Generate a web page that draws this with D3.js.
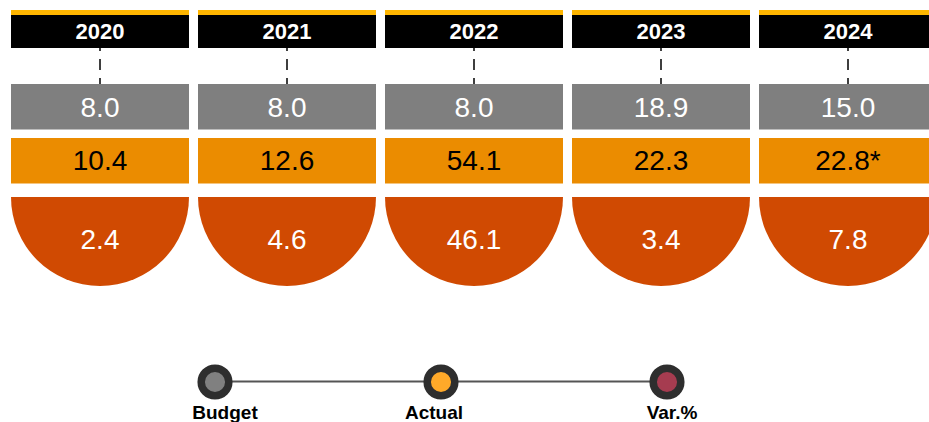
<!DOCTYPE html>
<html>
<head>
<meta charset="utf-8">
<script src="https://cdn.jsdelivr.net/npm/d3@7"></script>
<style>
  body { margin: 0; background: #fff; }
  svg { display: block; font-family: "Liberation Sans", Arial, Helvetica, sans-serif; }
</style>
</head>
<body>
<div id="here"></div>
<script>
  var w = 929, h = 422;

  var years = ['2020', '2021', '2022', '2023', '2024'];
  var budget = [8.0, 8.0, 8.0, 18.9, 15.0];
  var actual = [10.4, 12.6, 54.1, 22.3, 22.8];
  var actualNote = ['', '', '', '', '*'];
  var variance = [2.4, 4.6, 46.1, 3.4, 7.8];

  var legendNames = ['Budget', 'Actual', 'Var.%'];
  var legendColors = ['#808080', '#ffa929', '#a63c50'];

  var rows = years.map(function(y, i) {
    return {year: y, budget: budget[i], actual: actual[i], note: actualNote[i], variance: variance[i]};
  });

  var x = d3.scaleBand().domain(years).range([11, 937]).paddingInner(9 / 187).paddingOuter(0);
  var bw = x.bandwidth();

  var svg = d3.select('#here').append('svg')
    .attr('width', w)
    .attr('height', h);

  var g = svg.selectAll('.col')
    .data(rows)
    .enter().append('g')
    .attr('class', 'col')
    .attr('transform', function(d) { return 'translate(' + x(d.year) + ',0)'; });

  // dashed connector (drawn first so the header covers its top)
  g.append('line')
    .attr('x1', bw / 2).attr('x2', bw / 2)
    .attr('y1', 40).attr('y2', 84)
    .attr('stroke', '#000')
    .attr('stroke-width', 1.5)
    .attr('stroke-dasharray', '11,8');

  // header
  g.append('rect').attr('y', 10).attr('width', bw).attr('height', 5).attr('fill', '#ffb600');
  g.append('rect').attr('y', 15).attr('width', bw).attr('height', 33).attr('fill', '#000');
  g.append('text')
    .attr('x', bw / 2).attr('y', 38.5)
    .attr('text-anchor', 'middle')
    .attr('fill', '#fff')
    .style('font-size', '22px')
    .style('font-weight', 'bold')
    .text(function(d) { return d.year; });

  // budget
  g.append('rect').attr('y', 84).attr('width', bw).attr('height', 45.5).attr('fill', '#7f7f7f');
  g.append('text')
    .attr('x', bw / 2).attr('y', 117)
    .attr('text-anchor', 'middle')
    .attr('fill', '#fff')
    .style('font-size', '28px')
    .text(function(d) { return d3.format('.1f')(d.budget); });

  // actual
  g.append('rect').attr('y', 138).attr('width', bw).attr('height', 45.5).attr('fill', '#eb8c00');
  g.append('text')
    .attr('x', bw / 2).attr('y', 169.5)
    .attr('text-anchor', 'middle')
    .attr('fill', '#000')
    .style('font-size', '28px')
    .text(function(d) { return d3.format('.1f')(d.actual) + d.note; });

  // variance half circle
  var half = d3.arc()
    .innerRadius(0)
    .outerRadius(bw / 2)
    .startAngle(Math.PI / 2)
    .endAngle(3 * Math.PI / 2);

  g.append('path')
    .attr('transform', 'translate(' + bw / 2 + ',197)')
    .attr('d', half())
    .attr('fill', '#d04a02');
  g.append('text')
    .attr('x', bw / 2).attr('y', 248.5)
    .attr('text-anchor', 'middle')
    .attr('fill', '#fff')
    .style('font-size', '28px')
    .text(function(d) { return d3.format('.1f')(d.variance); });

  // legend
  var lx = d3.scalePoint().domain(legendNames).range([215, 667]);
  var labelShift = [10, -7, 5];
  var lg = svg.append('g');
  lg.append('line')
    .attr('x1', lx('Budget')).attr('x2', lx('Var.%'))
    .attr('y1', 381.5).attr('y2', 381.5)
    .attr('stroke', '#555')
    .attr('stroke-width', 2);

  var item = lg.selectAll('.item')
    .data(legendNames)
    .enter().append('g')
    .attr('transform', function(d) { return 'translate(' + lx(d) + ',0)'; });

  item.append('circle')
    .attr('cy', 382)
    .attr('r', 13.8)
    .attr('fill', function(d, i) { return legendColors[i]; })
    .attr('stroke', '#2e2e2e')
    .attr('stroke-width', 7.5);

  item.append('text')
    .attr('x', function(d, i) { return labelShift[i]; })
    .attr('y', 419)
    .attr('text-anchor', 'middle')
    .attr('fill', '#000')
    .style('font-size', '19px')
    .style('font-weight', 'bold')
    .text(function(d) { return d; });
</script>
</body>
</html>
